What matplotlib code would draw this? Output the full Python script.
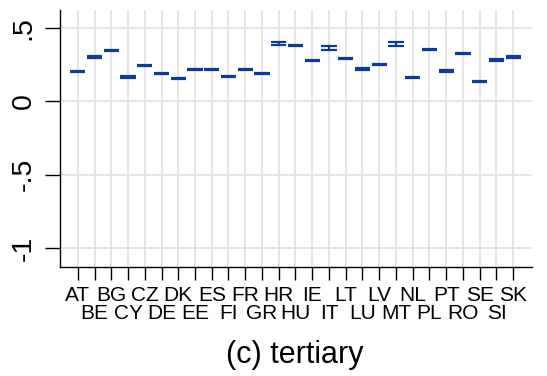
import numpy as np
import matplotlib
matplotlib.use("Agg")
import matplotlib.pyplot as plt

countries = ["AT", "BE", "BG", "CY", "CZ", "DE", "DK", "EE", "ES", "FI", "FR", "GR", "HR",
             "HU", "IE", "IT", "LT", "LU", "LV", "MT", "NL", "PL", "PT", "RO", "SE", "SI", "SK"]
estimate = [0.205, 0.302, 0.348, 0.166, 0.243, 0.189, 0.155, 0.216, 0.216, 0.170, 0.218, 0.189, 0.395,
            0.380, 0.277, 0.363, 0.291, 0.220, 0.254, 0.393, 0.164, 0.352, 0.207, 0.325, 0.136, 0.282, 0.302]
lower = [0.201, 0.298, 0.344, 0.162, 0.239, 0.185, 0.151, 0.212, 0.212, 0.166, 0.214, 0.185, 0.387,
         0.376, 0.273, 0.350, 0.286, 0.216, 0.250, 0.380, 0.160, 0.348, 0.203, 0.321, 0.132, 0.278, 0.297]
upper = [0.209, 0.306, 0.352, 0.170, 0.247, 0.193, 0.159, 0.220, 0.220, 0.174, 0.222, 0.193, 0.403,
         0.384, 0.281, 0.377, 0.296, 0.224, 0.258, 0.407, 0.168, 0.356, 0.211, 0.329, 0.140, 0.286, 0.307]
yticks = [-1, -0.5, 0, 0.5]
yticklabels = ["-1", "-.5", "0", ".5"]
title = "(c) tertiary"

plt.rcParams['font.family'] = ['Liberation Sans', 'DejaVu Sans']

fig = plt.figure(figsize=(5.47, 3.76), dpi=100)
ax = fig.add_axes([60/547, 1 - 267/376, (532-60)/547, (267-10)/376])

x = np.arange(len(countries))
color = '#0a3d9b'
grid_c = '#e3e3e3'

for yv in yticks:
    ax.axhline(yv, color=grid_c, lw=1.3, zorder=0)
for xv in x:
    ax.axvline(xv, color=grid_c, lw=1.3, zorder=0)

hw = 0.455
lw = 1.6
ax.vlines(x, lower, upper, color=color, lw=lw, zorder=3)
ax.hlines(lower, x - hw, x + hw, color=color, lw=lw, zorder=3)
ax.hlines(upper, x - hw, x + hw, color=color, lw=lw, zorder=3)

ax.set_xlim(-1.06, 27.12)
ax.set_ylim(-1.13, 0.623)

ax.set_yticks(yticks)
ax.set_yticklabels(yticklabels, rotation=90, va='center', fontsize=20.5)
ax.set_xticks(x)
labels = [c if i % 2 == 0 else "\n" + c for i, c in enumerate(countries)]
ax.set_xticklabels(labels, fontsize=15, linespacing=0.95,
                   family=['Liberation Sans Narrow', 'Liberation Sans'])
ax.tick_params(axis='y', length=11, width=1, pad=6)
ax.tick_params(axis='x', length=9, width=1, pad=4.5)

for s in ['top', 'right']:
    ax.spines[s].set_visible(False)
for s in ['left', 'bottom']:
    ax.spines[s].set_linewidth(1.0)

fig.text(295/547, 1 - 363/376, title, ha='center', va='baseline', fontsize=22)

fig.savefig("out.png", dpi=100)
